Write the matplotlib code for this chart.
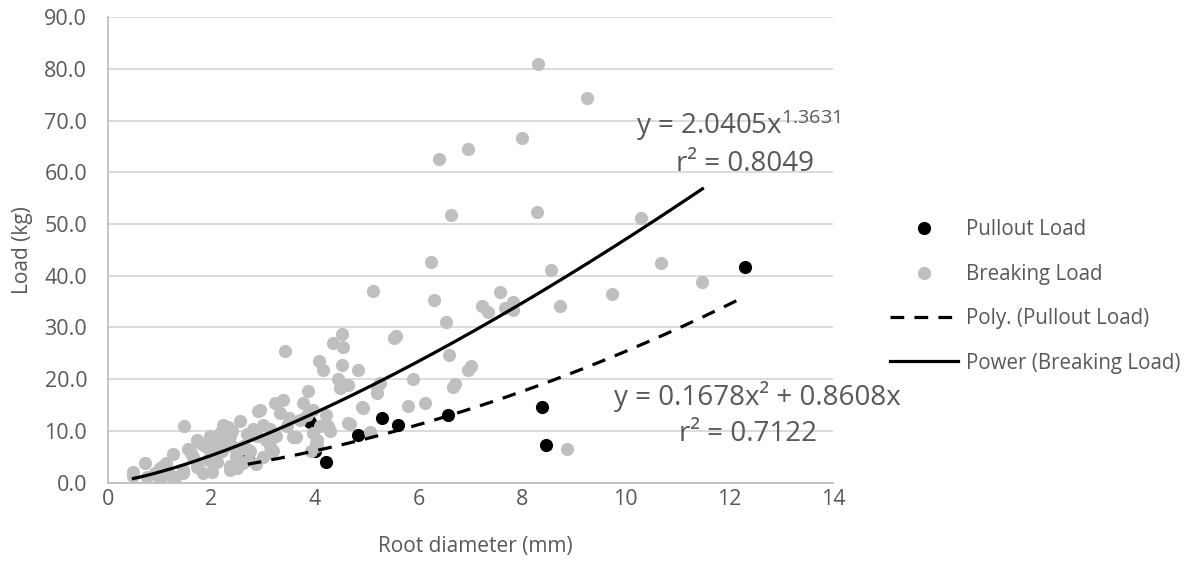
import numpy as np
import matplotlib
matplotlib.use('Agg')
import matplotlib.pyplot as plt
from matplotlib.lines import Line2D

plt.rcParams['font.family'] = ['Open Sans', 'DejaVu Sans']
plt.rcParams['mathtext.fontset'] = 'custom'
plt.rcParams['mathtext.rm'] = 'Open Sans'
plt.rcParams['mathtext.it'] = 'Open Sans'

# Pullout load (black points)
pull_x = [2.70, 3.90, 4.00, 4.22, 4.83, 5.30, 5.60, 6.56, 8.39, 8.46, 12.30]
pull_y = [4.5, 11.7, 6.0, 4.0, 9.1, 12.5, 11.1, 13.1, 14.7, 7.2, 41.7]

# Breaking load (grey points)
brk_x = [8.31, 9.25, 6.40, 6.95, 7.99, 6.63, 8.29, 10.29, 6.23, 8.55, 10.68, 5.11,
         7.57, 6.29, 7.22, 7.33, 7.67, 7.82, 7.82, 8.72, 9.73, 11.48, 6.52, 5.57,
         5.53, 6.59, 7.01, 6.95, 5.89, 6.71, 6.67, 5.79, 6.13, 8.86,
         3.42, 4.51, 4.35, 4.54, 4.08, 4.16, 4.51, 4.82, 4.45, 4.64, 4.48, 3.87,
         5.19, 5.19, 5.25, 3.38, 3.77, 4.90, 4.93, 3.22, 3.32, 2.93, 3.96, 4.22,
         4.67, 5.06, 3.96, 4.02, 3.93, 3.58, 4.25, 4.09, 4.29, 4.03, 4.03, 3.45,
         3.64, 3.00, 3.06, 3.13, 3.19, 3.13, 3.13, 4.64,
         0.49, 0.71, 0.75, 1.00, 1.13, 1.26, 1.20, 1.45, 1.47, 1.65, 1.78, 1.71,
         1.84, 1.94, 2.03, 2.16, 2.23, 2.32, 2.29, 2.39, 2.35, 2.55, 2.48, 2.61,
         2.68, 2.71, 2.80, 2.90, 1.00, 1.07, 1.61, 1.71, 1.45, 0.49, 1.97, 2.36,
         2.87, 2.68, 2.36, 2.61, 1.97, 1.71, 0.90, 1.30, 2.00, 2.10, 2.20, 2.50,
         2.85, 3.00, 2.75, 3.25, 3.50, 3.70, 3.85, 2.40, 2.10, 1.55, 1.88]
brk_y = [80.9, 74.4, 62.5, 64.6, 66.7, 51.8, 52.4, 51.1, 42.6, 41.2, 42.5, 37.0,
         36.8, 35.4, 34.1, 33.0, 33.8, 34.9, 33.4, 34.2, 36.4, 38.8, 31.0, 28.4,
         27.9, 24.6, 22.6, 21.8, 20.0, 19.0, 18.5, 14.8, 15.4, 6.5,
         25.5, 28.8, 27.0, 26.3, 23.6, 21.8, 22.8, 21.7, 20.1, 18.9, 18.3, 17.7,
         18.5, 17.3, 19.2, 15.9, 15.3, 14.7, 14.4, 15.4, 13.5, 14.0, 14.0, 13.0,
         11.4, 9.8, 9.6, 7.7, 6.0, 8.9, 10.9, 10.9, 9.9, 8.3, 7.0, 10.9,
         8.9, 11.2, 8.3, 7.0, 6.0, 10.3, 5.7, 11.5,
         2.1, 3.7, 1.1, 2.8, 3.7, 5.6, 1.5, 2.4, 10.9, 5.0, 7.6, 3.0,
         1.8, 4.4, 6.3, 9.6, 11.1, 10.8, 8.3, 7.0, 2.5, 11.9, 5.1, 7.0,
         9.3, 4.4, 10.3, 13.8, 0.6, 3.2, 5.7, 8.3, 1.9, 1.2, 9.0, 9.0,
         9.0, 6.4, 3.2, 3.8, 5.1, 3.2, 1.8, 1.0, 2.0, 4.0, 6.0, 2.8,
         3.5, 5.0, 6.0, 9.0, 12.5, 12.0, 13.0, 10.0, 7.5, 6.5, 7.0]

# trendline coefficients as printed on the chart
poly_a, poly_b = 0.1678, 0.8608
pow_a, pow_b = 2.0405, 1.3631

x_ticks = [0, 2, 4, 6, 8, 10, 12, 14]
y_ticks = [0, 10, 20, 30, 40, 50, 60, 70, 80, 90]

txt = '#595959'
fig = plt.figure(figsize=(11.93, 5.66), dpi=100)
ax = fig.add_axes([0.0905, 0.1475, 0.6077, 0.822])

ax.scatter(pull_x, pull_y, s=90, color='black', zorder=3, linewidths=0)
ax.scatter(brk_x, brk_y, s=90, color='#BFBFBF', zorder=4, linewidths=0)

xp = np.linspace(min(pull_x), max(pull_x), 200)
ax.plot(xp, poly_a * xp**2 + poly_b * xp, color='black', lw=2.3,
        dashes=(4.3, 3.2), zorder=5)
xw = np.linspace(min(brk_x), max(brk_x), 200)
ax.plot(xw, pow_a * xw**pow_b, color='black', lw=2.3, zorder=5)

ax.set_xlim(0, 14)
ax.set_ylim(0, 90)
ax.set_xticks(x_ticks)
ax.set_yticks(y_ticks)
ax.set_yticklabels([f'{v:.1f}' for v in y_ticks])
ax.tick_params(length=0, labelsize=15.5, labelcolor=txt)
ax.tick_params(axis='x', pad=5)
ax.tick_params(axis='y', pad=15)
ax.grid(axis='y', color='#D9D9D9', lw=1.3)
ax.set_axisbelow(True)
for s in ['top', 'right']:
    ax.spines[s].set_visible(False)
for s in ['left', 'bottom']:
    ax.spines[s].set_color('#BFBFBF')
    ax.spines[s].set_linewidth(1.3)

ax.set_xlabel('Root diameter (mm)', fontsize=15, color=txt)
ax.set_ylabel('Load (kg)', fontsize=15, color=txt)
ax.xaxis.set_label_coords(0.507, -0.115)
ax.yaxis.set_label_coords(-0.103, 0.5)

fig.text(738 / 1193, 1 - 125 / 566, r'y = 2.0405x$^{1.3631}$', fontsize=20,
         color=txt, ha='center', va='center')
fig.text(745 / 1193, 1 - 164 / 566, 'r² = 0.8049', fontsize=20,
         color=txt, ha='center', va='center')
fig.text(757 / 1193, 1 - 396 / 566, 'y = 0.1678x² + 0.8608x', fontsize=20,
         color=txt, ha='center', va='center')
fig.text(748 / 1193, 1 - 434 / 566, 'r² = 0.7122', fontsize=20,
         color=txt, ha='center', va='center')

handles = [
    Line2D([], [], ls='none', marker='o', ms=9.5, color='black', mec='none'),
    Line2D([], [], ls='none', marker='o', ms=9.5, color='#BFBFBF', mec='none'),
    Line2D([], [], color='black', lw=2.3, dashes=(4.3, 3.2)),
    Line2D([], [], color='black', lw=2.3),
]
labels = ['Pullout Load', 'Breaking Load', 'Poly. (Pullout Load)',
          'Power (Breaking Load)']
leg = fig.legend(handles, labels, loc='upper left',
                 bbox_to_anchor=(880 / 1193, 1 - 209 / 566), frameon=False,
                 fontsize=14.8, handlelength=3.3, handletextpad=0.38,
                 labelspacing=1.14, borderpad=0)
for t in leg.get_texts():
    t.set_color(txt)

fig.savefig('out.png', dpi=100)
